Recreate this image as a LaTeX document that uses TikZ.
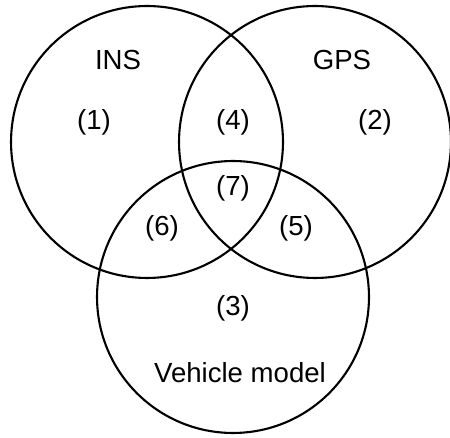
\documentclass[tikz,border=0pt]{standalone}
\usepackage{fontspec}
\setmainfont{Liberation Sans}
\begin{document}
\begin{tikzpicture}[scale=.02]
\useasboundingbox (0,0) rectangle (450,437);
\node[circle, draw, line width=1.2pt, minimum size=5.44cm, inner sep=0] (ins) at (147,295){};
\node[circle, draw, line width=1.2pt, minimum size=5.44cm, inner sep=0] (gps) at (315,295){};
\node[circle, draw, line width=1.2pt, minimum size=5.44cm, inner sep=0] (veh) at (233,140){};
\node[font=\fontsize{15.7}{18}\selectfont] (tins) at (118,377){INS};
\node[font=\fontsize{15.7}{18}\selectfont] (tgps) at (342,377){GPS};
\node[font=\fontsize{15.7}{18}\selectfont] (r1) at (94,315){(1)};
\node[font=\fontsize{15.7}{18}\selectfont] (r4) at (233,315){(4)};
\node[font=\fontsize{15.7}{18}\selectfont] (r2) at (375,315){(2)};
\node[font=\fontsize{15.7}{18}\selectfont] (r7) at (233,249){(7)};
\node[font=\fontsize{15.7}{18}\selectfont] (r6) at (162,209){(6)};
\node[font=\fontsize{15.7}{18}\selectfont] (r5) at (296,209){(5)};
\node[font=\fontsize{15.7}{18}\selectfont] (r3) at (233,129){(3)};
\node[font=\fontsize{15.7}{18}\selectfont] (tveh) at (240,64){Vehicle model};
\end{tikzpicture}
\end{document}
